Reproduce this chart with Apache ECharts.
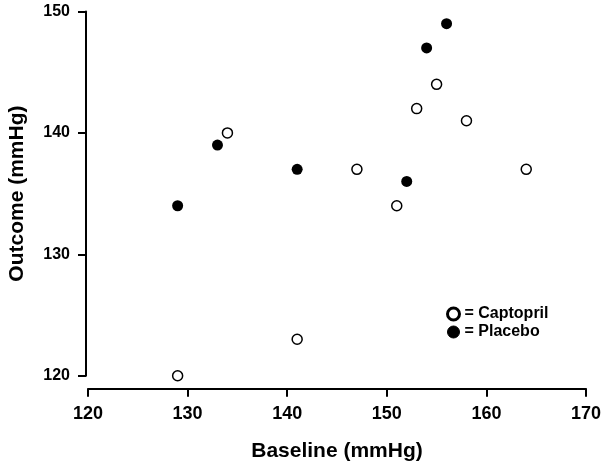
<!DOCTYPE html>
<html>
<head>
<meta charset="utf-8">
<script src="https://cdn.jsdelivr.net/npm/echarts@6/dist/echarts.min.js"></script>
<style>
  html, body { margin: 0; padding: 0; background: #fff; }
  #chart { width: 601px; height: 466px; }
</style>
</head>
<body>
<div id="chart"></div>
<script>
// Baseline vs outcome blood pressure, by treatment group
const captoprilBaseline = [129, 134, 141, 147, 151, 153, 155, 158, 164];
const captoprilOutcome  = [120, 140, 123, 137, 134, 142, 144, 141, 137];
const placeboBaseline   = [129, 133, 141, 152, 154, 156];
const placeboOutcome    = [134, 139, 137, 136, 147, 149];

const xTicks = [120, 130, 140, 150, 160, 170];
const yTicks = [120, 130, 140, 150];

const pairs = (xs, ys) => xs.map((x, i) => [x, ys[i]]);
const FONT = 'Arial, "Liberation Sans", sans-serif';

function axisLine() {
  return { show: true, onZero: false, lineStyle: { color: '#000', width: 2 } };
}
function axisTick() {
  return { show: true, length: 8, lineStyle: { color: '#000', width: 2 } };
}
function tickLabel(size, margin, padding) {
  return {
    color: '#000', fontFamily: FONT, fontWeight: 'bold', fontSize: size,
    margin: margin, padding: padding,
    hideOverlap: false
  };
}
function titleStyle() {
  return { color: '#000', fontFamily: FONT, fontWeight: 'bold', fontSize: 21 };
}

const chart = echarts.init(document.getElementById('chart'));
chart.setOption({
  animation: false,
  backgroundColor: '#fff',
  grid: { left: 88, right: 15, top: 11.5, bottom: 90.3, outerBoundsMode: 'none' },
  xAxis: {
    type: 'value',
    min: xTicks[0], max: xTicks[xTicks.length - 1], interval: 10,
    offset: 13,
    axisLine: axisLine(),
    axisTick: axisTick(),
    axisLabel: tickLabel(18, 16, [0, 0, 0, 0]),
    splitLine: { show: false },
    name: 'Baseline (mmHg)',
    nameLocation: 'middle',
    nameGap: 52,
    nameTextStyle: titleStyle()
  },
  yAxis: {
    type: 'value',
    min: yTicks[0], max: yTicks[yTicks.length - 1], interval: 10,
    offset: 2,
    axisLine: axisLine(),
    axisTick: axisTick(),
    axisLabel: tickLabel(16, 16, [3, 0, 0, 0]),
    splitLine: { show: false },
    name: 'Outcome (mmHg)',
    nameLocation: 'middle',
    nameGap: 58,
    nameTextStyle: titleStyle()
  },
  legend: {
    orient: 'vertical',
    left: 446, top: 306,
    padding: 0,
    itemWidth: 12, itemHeight: 12, itemGap: 2,
    formatter: '= {name}',
    textStyle: { color: '#000', fontFamily: FONT, fontWeight: 'bold', fontSize: 16 },
    data: [
      { name: 'Captopril', icon: 'circle', itemStyle: { color: '#fff', borderColor: '#000', borderWidth: 3 } },
      { name: 'Placebo', icon: 'circle', itemStyle: { color: '#000', borderColor: '#000', borderWidth: 1 } }
    ]
  },
  series: [
    {
      name: 'Captopril',
      type: 'scatter',
      symbol: 'circle',
      symbolSize: 10,
      itemStyle: { color: '#fff', borderColor: '#000', borderWidth: 1.5, opacity: 1 },
      data: pairs(captoprilBaseline, captoprilOutcome)
    },
    {
      name: 'Placebo',
      type: 'scatter',
      symbol: 'circle',
      symbolSize: 11,
      itemStyle: { color: '#000', borderColor: '#000', borderWidth: 0, opacity: 1 },
      data: pairs(placeboBaseline, placeboOutcome)
    }
  ]
});
</script>
</body>
</html>
